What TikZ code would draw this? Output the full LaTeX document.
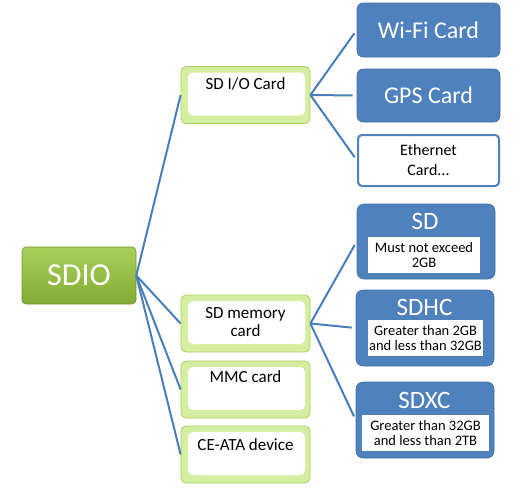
\documentclass[tikz,border=0pt]{standalone}
\usepackage{fontspec}
\setmainfont{Carlito}
\definecolor{blueB}{HTML}{4F81BD}
\definecolor{lineB}{HTML}{4A7EBB}
\definecolor{greenT}{HTML}{A9D05A}
\definecolor{greenB}{HTML}{82AB35}
\definecolor{greenE}{HTML}{6E9A2A}
\definecolor{frameG}{HTML}{D6EEA2}
\definecolor{frameE}{HTML}{AACF60}
\begin{document}
\begin{tikzpicture}[x=1pt,y=-1pt,
  root/.style={rounded corners=4pt, top color=greenT, bottom color=greenB, draw=greenE,
    line width=0.6pt, minimum width=114pt, minimum height=57pt, inner sep=0pt,
    text=white, font=\fontsize{32}{34}\selectfont},
  card/.style={draw=frameE, fill=frameG, rounded corners=5pt, line width=0.8pt, inner sep=0pt,
    minimum width=129pt, minimum height=57pt,
    path picture={\fill[white] ([xshift=7pt,yshift=-6pt]path picture bounding box.north west)
      rectangle ([xshift=-5pt,yshift=8pt]path picture bounding box.south east);}},
  cardtext/.style={anchor=base, inner sep=0pt, align=center, font=\fontsize{17}{18}\selectfont},
  bluebox/.style={fill=blueB, draw=blueB!85!black, line width=0.6pt, rounded corners=6pt, inner sep=0pt,
    minimum width=143pt, minimum height=54pt, text=white, font=\fontsize{24}{26}\selectfont},
  whitebox/.style={fill=white, draw=blueB, line width=2pt, rounded corners=4pt, inner sep=0pt,
    minimum width=141pt, minimum height=51pt, align=center, font=\fontsize{16}{20}\selectfont},
  capbox/.style={fill=blueB, draw=blueB!85!black, line width=0.6pt, rounded corners=7pt, inner sep=0pt,
    minimum width=138pt, minimum height=76pt},
  captitle/.style={anchor=base, inner sep=0pt, text=white, font=\fontsize{25}{27}\selectfont},
  capnote/.style={fill=white, inner sep=0pt, minimum height=36pt, align=center,
    font=\fontsize{14.5}{15}\selectfont},
  conn/.style={draw=lineB, line width=2pt},
  connr/.style={conn, shorten >=4pt}
]
\useasboundingbox (0,0) rectangle (524,493);

% root
\node[root] (root) at (79,275.5) {SDIO};

% green cards
\node[card] (sdio) at (245.5,95) {};
\node[cardtext] (sdiot) at (245.5,89) {SD I/O Card};
\node[card] (sdmem) at (245.5,323.5) {};
\node[cardtext] (sdmemt) at (245.5,336) {SD memory\\card};
\node[card] (mmc) at (245.5,389.5) {};
\node[cardtext] (mmct) at (245.5,382) {MMC card};
\node[card] (ceata) at (245.5,454.5) {};
\node[cardtext] (ceatat) at (245.5,450) {CE-ATA device};

% I/O cards
\node[bluebox] (wifi) at (428.5,30) {Wi-Fi Card};
\node[bluebox, minimum height=53pt] (gps) at (428.5,95.5) {GPS Card};
\node[whitebox] (eth) at (428.5,160.5) {Ethernet\\Card...};

% memory cards
\node[capbox, minimum height=75pt] (sd) at (426,241.5) {};
\node[captitle] (sdt) at (425,229) {SD};
\node[capnote, minimum width=112pt] (sdn) at (424,255) {Must not exceed\\2GB};

\node[capbox] (sdhc) at (425,328) {};
\node[captitle] (sdhct) at (424.5,315) {SDHC};
\node[capnote, minimum width=115pt] (sdhcn) at (425.5,338) {Greater than 2GB\\and less than 32GB};

\node[capbox] (sdxc) at (425,420) {};
\node[captitle] (sdxct) at (424.5,408) {SDXC};
\node[capnote, minimum width=127pt] (sdxcn) at (425.5,433) {Greater than 32GB\\and less than 2TB};

% connectors
\draw[conn] (root.east) -- (sdio.west);
\draw[conn] (root.east) -- (sdmem.west);
\draw[conn] (root.east) -- (mmc.west);
\draw[conn] (root.east) -- (ceata.west);
\draw[connr] (sdio.east) -- (wifi.west);
\draw[connr] (sdio.east) -- (gps.west);
\draw[connr] (sdio.east) -- (eth.west);
\draw[connr] (sdmem.east) -- (sd.west);
\draw[connr] (sdmem.east) -- (sdhc.west);
\draw[connr] (sdmem.east) -- (sdxc.west);
\end{tikzpicture}
\end{document}
